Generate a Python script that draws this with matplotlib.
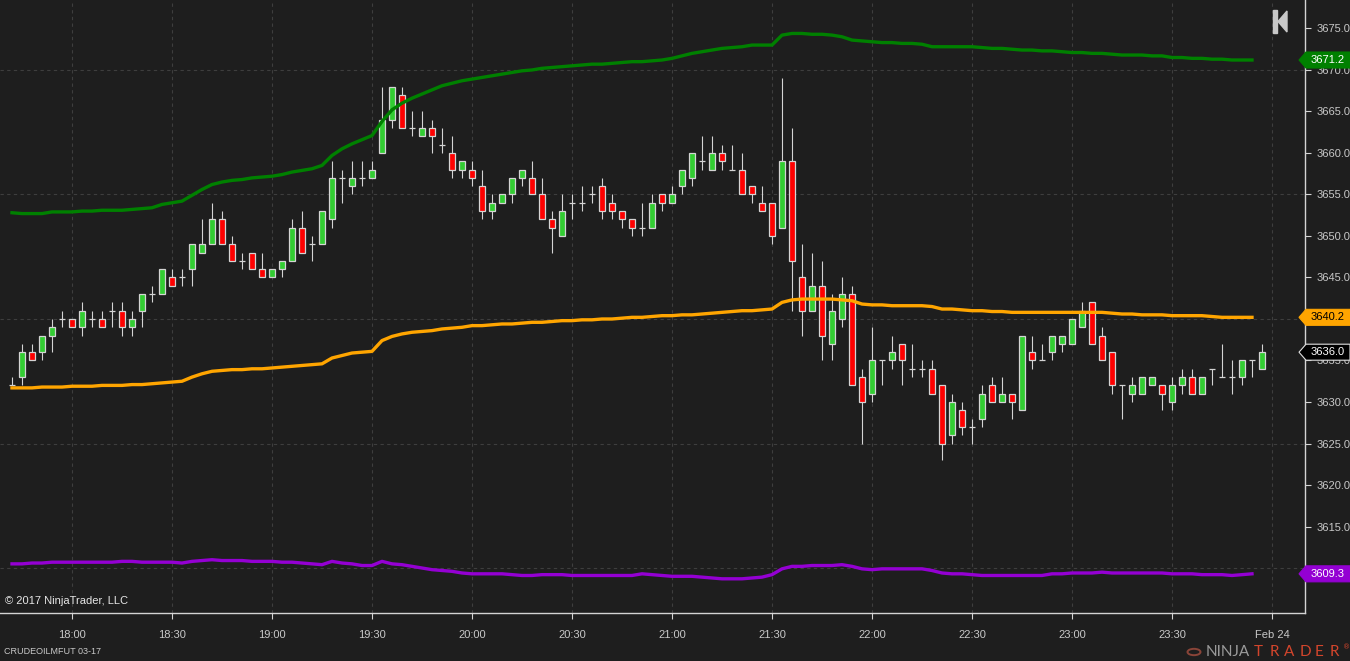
import numpy as np
import matplotlib.pyplot as plt
import pandas as pd
from matplotlib.patches import Polygon, Rectangle, Circle
from matplotlib.transforms import blended_transform_factory

# 3-minute bars, CRUDEOILMFUT 03-17, starting 17:42
start = pd.Timestamp('2017-02-23 17:42')
bar_len = pd.Timedelta(minutes=3)

opens = [3632, 3633, 3636, 3636, 3638, 3640, 3640, 3639, 3640, 3640,
         3641, 3641, 3639, 3641, 3643, 3643, 3645, 3645, 3646, 3648,
         3649, 3652, 3649, 3647, 3648, 3646, 3645, 3646, 3647, 3651,
         3649, 3649, 3652, 3657, 3656, 3657, 3657, 3660, 3664, 3667,
         3663, 3662, 3663, 3661, 3660, 3658, 3658, 3656, 3653, 3654,
         3655, 3657, 3657, 3655, 3652, 3650, 3654, 3654, 3655, 3656,
         3654, 3653, 3652, 3651, 3651, 3655, 3654, 3656, 3657, 3659,
         3658, 3660, 3658, 3658, 3656, 3654, 3654, 3651, 3659, 3645,
         3641, 3644, 3637, 3640, 3643, 3633, 3631, 3635, 3635, 3637,
         3634, 3634, 3634, 3632, 3626, 3629, 3627, 3628, 3632, 3630,
         3631, 3629, 3636, 3635, 3636, 3637, 3637, 3639, 3642, 3638,
         3636, 3632, 3631, 3631, 3632, 3632, 3630, 3632, 3633, 3631,
         3634, 3633, 3633, 3633, 3635, 3634]
highs = [3633, 3637, 3637, 3638, 3640, 3641, 3640, 3642, 3641, 3641,
         3642, 3642, 3641, 3643, 3644, 3646, 3646, 3646, 3649, 3652,
         3654, 3653, 3650, 3648, 3648, 3648, 3646, 3647, 3652, 3653,
         3650, 3653, 3659, 3658, 3659, 3659, 3659, 3668, 3668, 3668,
         3665, 3665, 3664, 3663, 3662, 3659, 3659, 3658, 3655, 3655,
         3657, 3658, 3659, 3657, 3653, 3655, 3655, 3656, 3656, 3657,
         3655, 3653, 3652, 3654, 3655, 3655, 3656, 3658, 3660, 3662,
         3662, 3661, 3661, 3660, 3656, 3656, 3654, 3669, 3663, 3649,
         3648, 3647, 3643, 3645, 3644, 3634, 3639, 3635, 3638, 3637,
         3637, 3635, 3635, 3632, 3631, 3630, 3628, 3632, 3633, 3633,
         3631, 3638, 3638, 3637, 3638, 3638, 3640, 3642, 3642, 3639,
         3636, 3632, 3633, 3633, 3633, 3632, 3633, 3634, 3634, 3633,
         3634, 3637, 3635, 3635, 3635, 3637]
lows = [3632, 3632, 3635, 3635, 3636, 3639, 3639, 3638, 3639, 3639,
        3639, 3638, 3638, 3639, 3642, 3643, 3644, 3644, 3644, 3648,
        3649, 3649, 3647, 3646, 3646, 3645, 3645, 3645, 3647, 3648,
        3647, 3649, 3651, 3654, 3655, 3656, 3657, 3660, 3663, 3663,
        3662, 3662, 3660, 3660, 3657, 3657, 3656, 3652, 3652, 3654,
        3654, 3656, 3655, 3652, 3648, 3650, 3652, 3653, 3654, 3652,
        3652, 3651, 3650, 3650, 3651, 3653, 3654, 3655, 3656, 3658,
        3658, 3658, 3658, 3655, 3654, 3653, 3649, 3651, 3641, 3638,
        3641, 3635, 3635, 3639, 3632, 3625, 3630, 3632, 3634, 3632,
        3633, 3633, 3631, 3623, 3625, 3626, 3625, 3627, 3630, 3630,
        3628, 3629, 3634, 3635, 3635, 3636, 3637, 3639, 3637, 3635,
        3631, 3628, 3630, 3631, 3632, 3629, 3629, 3631, 3631, 3631,
        3632, 3633, 3631, 3632, 3633, 3634]
closes = [3632, 3636, 3635, 3638, 3639, 3640, 3639, 3641, 3640, 3639,
          3641, 3639, 3640, 3643, 3643, 3646, 3644, 3645, 3649, 3649,
          3652, 3649, 3647, 3647, 3646, 3645, 3646, 3647, 3651, 3648,
          3649, 3653, 3657, 3657, 3657, 3657, 3658, 3664, 3668, 3663,
          3663, 3663, 3662, 3661, 3658, 3659, 3657, 3653, 3654, 3655,
          3657, 3658, 3655, 3652, 3651, 3653, 3654, 3654, 3655, 3653,
          3653, 3652, 3651, 3651, 3654, 3654, 3655, 3658, 3660, 3659,
          3660, 3659, 3658, 3655, 3655, 3653, 3650, 3659, 3647, 3641,
          3644, 3638, 3641, 3643, 3632, 3630, 3635, 3635, 3636, 3635,
          3634, 3634, 3631, 3625, 3630, 3627, 3627, 3631, 3630, 3631,
          3630, 3638, 3635, 3635, 3638, 3638, 3640, 3641, 3637, 3635,
          3632, 3632, 3632, 3633, 3633, 3631, 3632, 3633, 3631, 3633,
          3634, 3633, 3633, 3635, 3635, 3636]

upper_band = [3652.8, 3652.7, 3652.7, 3652.7, 3652.9, 3652.9, 3652.9, 3653.0, 3653.0, 3653.1,
              3653.1, 3653.1, 3653.2, 3653.3, 3653.4, 3653.8, 3654.0, 3654.2, 3654.9, 3655.6,
              3656.2, 3656.5, 3656.7, 3656.8, 3657.0, 3657.1, 3657.2, 3657.4, 3657.7, 3657.9,
              3658.1, 3658.5, 3659.7, 3660.5, 3661.1, 3661.6, 3662.1, 3663.8, 3665.2, 3666.0,
              3666.6, 3667.1, 3667.6, 3668.1, 3668.4, 3668.7, 3668.9, 3669.1, 3669.3, 3669.5,
              3669.7, 3669.9, 3670.0, 3670.2, 3670.3, 3670.4, 3670.5, 3670.6, 3670.7, 3670.7,
              3670.8, 3670.9, 3671.0, 3671.0, 3671.1, 3671.2, 3671.4, 3671.7, 3672.0, 3672.2,
              3672.4, 3672.6, 3672.7, 3672.8, 3673.0, 3673.0, 3673.0, 3674.2, 3674.4, 3674.4,
              3674.3, 3674.3, 3674.2, 3674.0, 3673.6, 3673.5, 3673.4, 3673.3, 3673.3, 3673.2,
              3673.2, 3673.1, 3672.8, 3672.8, 3672.8, 3672.8, 3672.8, 3672.7, 3672.6, 3672.6,
              3672.5, 3672.4, 3672.4, 3672.3, 3672.3, 3672.2, 3672.1, 3672.1, 3672.0, 3672.0,
              3671.9, 3671.8, 3671.8, 3671.8, 3671.7, 3671.7, 3671.5, 3671.5, 3671.4, 3671.4,
              3671.3, 3671.3, 3671.2, 3671.2, 3671.2]
vwap = [3631.7, 3631.7, 3631.7, 3631.8, 3631.8, 3631.8, 3631.9, 3631.9, 3631.9, 3632.0,
        3632.0, 3632.0, 3632.1, 3632.1, 3632.2, 3632.3, 3632.4, 3632.5, 3633.0, 3633.4,
        3633.7, 3633.8, 3633.9, 3633.9, 3634.0, 3634.0, 3634.1, 3634.2, 3634.3, 3634.4,
        3634.5, 3634.6, 3635.3, 3635.6, 3635.9, 3636.0, 3636.1, 3637.4, 3637.9, 3638.2,
        3638.4, 3638.5, 3638.6, 3638.8, 3638.9, 3639.0, 3639.2, 3639.2, 3639.3, 3639.4,
        3639.4, 3639.5, 3639.6, 3639.6, 3639.7, 3639.8, 3639.8, 3639.9, 3639.9, 3640.0,
        3640.0, 3640.1, 3640.2, 3640.2, 3640.3, 3640.4, 3640.4, 3640.5, 3640.5, 3640.6,
        3640.7, 3640.8, 3640.9, 3641.0, 3641.0, 3641.1, 3641.2, 3642.0, 3642.3, 3642.4,
        3642.4, 3642.4, 3642.4, 3642.3, 3642.2, 3641.8, 3641.7, 3641.7, 3641.6, 3641.6,
        3641.6, 3641.6, 3641.5, 3641.2, 3641.2, 3641.1, 3641.0, 3641.0, 3640.9, 3640.9,
        3640.8, 3640.8, 3640.8, 3640.8, 3640.8, 3640.8, 3640.8, 3640.8, 3640.8, 3640.8,
        3640.7, 3640.6, 3640.6, 3640.5, 3640.5, 3640.5, 3640.4, 3640.4, 3640.4, 3640.4,
        3640.3, 3640.2, 3640.2, 3640.2, 3640.2]
lower_band = [3610.5, 3610.5, 3610.6, 3610.6, 3610.7, 3610.7, 3610.7, 3610.7, 3610.7, 3610.7,
              3610.7, 3610.8, 3610.8, 3610.7, 3610.7, 3610.7, 3610.7, 3610.6, 3610.8, 3610.9,
              3611.0, 3610.9, 3610.9, 3610.9, 3610.8, 3610.8, 3610.8, 3610.7, 3610.7, 3610.6,
              3610.5, 3610.4, 3610.8, 3610.6, 3610.5, 3610.3, 3610.3, 3610.8, 3610.5, 3610.4,
              3610.2, 3610.0, 3609.8, 3609.7, 3609.6, 3609.4, 3609.3, 3609.3, 3609.3, 3609.3,
              3609.2, 3609.1, 3609.1, 3609.2, 3609.2, 3609.2, 3609.1, 3609.1, 3609.1, 3609.1,
              3609.1, 3609.1, 3609.1, 3609.3, 3609.2, 3609.1, 3609.0, 3609.0, 3609.0, 3608.9,
              3608.8, 3608.7, 3608.7, 3608.7, 3608.8, 3608.9, 3609.2, 3609.9, 3610.2, 3610.2,
              3610.3, 3610.3, 3610.3, 3610.4, 3610.2, 3609.9, 3609.8, 3609.9, 3609.9, 3609.9,
              3609.9, 3609.9, 3609.7, 3609.4, 3609.3, 3609.3, 3609.2, 3609.1, 3609.1, 3609.1,
              3609.1, 3609.1, 3609.1, 3609.1, 3609.3, 3609.3, 3609.4, 3609.4, 3609.4, 3609.5,
              3609.4, 3609.4, 3609.4, 3609.4, 3609.4, 3609.4, 3609.3, 3609.3, 3609.3, 3609.2,
              3609.2, 3609.2, 3609.1, 3609.2, 3609.3]

time_labels = ['18:00', '18:30', '19:00', '19:30', '20:00', '20:30', '21:00',
               '21:30', '22:00', '22:30', '23:00', '23:30', 'Feb 24']
tick_times = pd.date_range('2017-02-23 18:00', periods=len(time_labels), freq='30min')
price_ticks = np.arange(3610, 3676, 5)
grid_levels = [3610, 3625, 3640, 3655, 3670]

bg = '#1e1e1e'
edge = '#d4d4d4'
grid_c = '#3e3e3e'
txt_c = '#c8c8c8'

W, H = 1350, 661
fig = plt.figure(figsize=(W / 100, H / 100), dpi=100, facecolor=bg)
ax = fig.add_axes([0, 48 / H, 1305 / W, 613 / H])
ax.set_facecolor(bg)

o, h, l, c = map(np.array, (opens, highs, lows, closes))
x = np.arange(len(o))
up = c > o
dn = c < o
flat = c == o
bw = 0.68

# candles
ax.vlines(x, l, h, color=edge, lw=0.8, zorder=2)
ax.bar(x[up], (c - o)[up], bottom=o[up], width=bw, color='#32cd32',
       edgecolor=edge, linewidth=0.9, zorder=3)
ax.bar(x[dn], (o - c)[dn], bottom=c[dn], width=bw, color='#ff0000',
       edgecolor=edge, linewidth=0.9, zorder=3)
ax.hlines(c[flat], x[flat] - bw / 2, x[flat] + bw / 2, color=edge, lw=0.9, zorder=3)

# bands
lx = np.arange(len(upper_band))
ax.plot(lx, upper_band, color='#008000', lw=2.4, zorder=4)
ax.plot(lx, vwap, color='#ffa500', lw=2.4, zorder=4)
ax.plot(lx, lower_band, color='#9400d3', lw=2.4, zorder=4)

ymin, ymax = 3604.58, 3678.43
ax.set_xlim(-1.2, 129.3)
ax.set_ylim(ymin, ymax)

# grid
tick_pos = (tick_times - start) / bar_len
for t in tick_pos:
    ax.axvline(t, color=grid_c, lw=0.8, ls=(0, (3, 3)), zorder=0)
for g in grid_levels:
    ax.axhline(g, color=grid_c, lw=0.8, ls=(0, (3, 3)), zorder=0)

markers = [(upper_band[-1], '#008000', 'white', '#008000'),
           (vwap[-1], '#ffa500', 'black', '#ffa500'),
           (closes[-1], 'black', 'white', '#e0e0e0'),
           (lower_band[-1], '#9400d3', 'white', '#9400d3')]

ax.set_xticks(tick_pos)
ax.set_xticklabels(time_labels)
ax.yaxis.tick_right()
ax.set_yticks(price_ticks)
# labels that sit fully under a value marker are not visible in the chart
ax.set_yticklabels(['' if any(abs(p - m[0]) < 0.8 for m in markers) else f'{p:.1f}'
                    for p in price_ticks])
ax.tick_params(axis='both', colors=edge, labelcolor=txt_c, length=4, width=0.8,
               labelsize=8)
ax.tick_params(axis='y', pad=4)
ax.tick_params(axis='x', pad=8)
for lab in ax.get_xticklabels() + ax.get_yticklabels():
    lab.set_fontfamily('Liberation Sans')

for s in ['left', 'top']:
    ax.spines[s].set_visible(False)
for s in ['right', 'bottom']:
    ax.spines[s].set_color(edge)
    ax.spines[s].set_linewidth(1.0)

# value markers on the price axis
tr = blended_transform_factory(fig.transFigure, ax.transData)
half = 8 * (ymax - ymin) / 613
for val, face, fg, border in markers:
    x0, x1, x2 = 1299 / W, 1306 / W, 1.0
    pts = [(x0, val), (x1, val + half), (x2, val + half), (x2, val - half), (x1, val - half)]
    fig.add_artist(Polygon(pts, closed=True, transform=tr, facecolor=face,
                           edgecolor=border, lw=0.8, zorder=5))
    fig.text(1328 / W, val, f'{val:.1f}', transform=tr, color=fg, fontsize=8,
             ha='center', va='center', family='Liberation Sans', zorder=6)

# scroll-to-end icon
fig.add_artist(Rectangle((1273 / W, 1 - 33 / H), 4 / W, 23 / H,
                         transform=fig.transFigure, color='#c8c8c8', zorder=5))
fig.add_artist(Polygon([(1278 / W, 1 - 21.5 / H), (1287 / W, 1 - 11 / H), (1287 / W, 1 - 32 / H)],
                       transform=fig.transFigure, color='#c8c8c8', zorder=5))

fig.text(5 / W, 1 - 601 / H, '\u00a9 2017 NinjaTrader, LLC', color='#e6e6e6',
         fontsize=8, va='center', family='Liberation Sans')
fig.text(4 / W, 1 - 652 / H, 'CRUDEOILMFUT 03-17', color=txt_c,
         fontsize=6.5, va='center', family='Liberation Sans')

# logo (letter-spaced like the original wordmark)
fig.add_artist(Circle((1194 / W, 1 - 652 / H), 6.5 / W, transform=fig.transFigure,
                      fill=False, ec='#8a4438', lw=1.4, zorder=5))
fig.text(1206 / W, 1 - 652 / H, 'NINJA', color='#9a9a9a', fontsize=11,
         va='center', family='Lato')
for k, ch in enumerate('TRADER'):
    fig.text((1254 + k * 15.2) / W, 1 - 652 / H, ch, color='#d2452c', fontsize=11,
             va='center', family='Lato')
fig.text(1343 / W, 1 - 647 / H, '\u00ae', color='#d2452c', fontsize=5, va='center')

fig.savefig('out.png', dpi=100, facecolor=bg)
